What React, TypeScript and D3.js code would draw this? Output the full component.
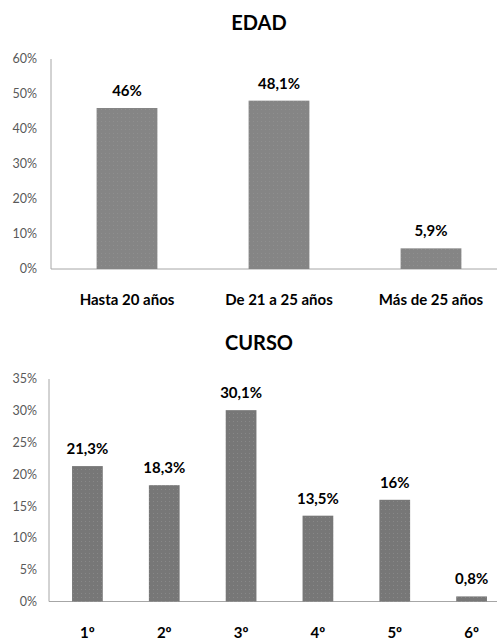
import React from 'react';
import * as d3 from 'd3';

const edadCategories = ['Hasta 20 años', 'De 21 a 25 años', 'Más de 25 años'];
const edadValues = [46, 48.1, 5.9];
const edadTicks = [0, 10, 20, 30, 40, 50, 60];

const cursoCategories = ['1º', '2º', '3º', '4º', '5º', '6º'];
const cursoValues = [21.3, 18.3, 30.1, 13.5, 16, 0.8];
const cursoTicks = [0, 5, 10, 15, 20, 25, 30, 35];

const FONT = 'Lato, "Open Sans", sans-serif';

const fmt = (v: number) => String(v).replace('.', ',') + '%';

function BarPanel({ title, categories, values, ticks, top, left, right, yTop, yZero, color, patternId, catSize }) {
  const x = d3.scaleBand().domain(categories).range([left, right]).paddingInner(0.6).paddingOuter(0.3);
  const y = d3.scaleLinear().domain([0, ticks[ticks.length - 1]]).range([yZero, yTop]);

  return (
    <g>
      <defs>
        <pattern id={patternId} width="4" height="4" patternUnits="userSpaceOnUse">
          <rect width="4" height="4" fill={color} />
          <rect x="1" y="1" width="1" height="1" fill="#9a9a9a" opacity="0.5" />
        </pattern>
      </defs>
      <text x={259} y={top} textAnchor="middle" fontFamily={FONT} fontWeight="bold" fontSize="20" fill="#000">
        {title}
      </text>
      <line x1={left} x2={left} y1={yTop} y2={yZero} stroke="#a6a6a6" />
      <line x1={left} x2={497} y1={yZero} y2={yZero} stroke="#a6a6a6" />
      {ticks.map((t) => (
        <text key={t} x={37} y={y(t)} dy="0.35em" textAnchor="end" fontFamily={FONT} fontSize="12.5" fill="#595959">
          {t}%
        </text>
      ))}
      {categories.map((c, i) => (
        <g key={c}>
          <rect x={x(c)} y={y(values[i])} width={x.bandwidth()} height={yZero - y(values[i])} fill={`url(#${patternId})`} />
          <text x={x(c) + x.bandwidth() / 2} y={y(values[i]) - 12} textAnchor="middle" fontFamily={FONT} fontWeight="bold" fontSize="15" fill="#000">
            {fmt(values[i])}
          </text>
          <text x={x(c) + x.bandwidth() / 2} y={yZero + 31} dy="0.35em" textAnchor="middle" fontFamily={FONT} fontWeight="bold" fontSize={catSize} fill="#000">
            {c}
          </text>
        </g>
      ))}
    </g>
  );
}

export default function App() {
  return (
    <svg width={498} height={640} style={{ position: 'absolute', left: 0, top: 0, background: '#fff' }}>
      <rect width={498} height={640} fill="#fff" />
      <BarPanel
        title="EDAD"
        categories={edadCategories}
        values={edadValues}
        ticks={edadTicks}
        top={30}
        left={51}
        right={507}
        yTop={59}
        yZero={269}
        color="#858585"
        patternId="p1"
        catSize={15}
      />
      <BarPanel
        title="CURSO"
        categories={cursoCategories}
        values={cursoValues}
        ticks={cursoTicks}
        top={350}
        left={49}
        right={510}
        yTop={379}
        yZero={601.5}
        color="#777777"
        patternId="p2"
        catSize={15}
      />
    </svg>
  );
}
